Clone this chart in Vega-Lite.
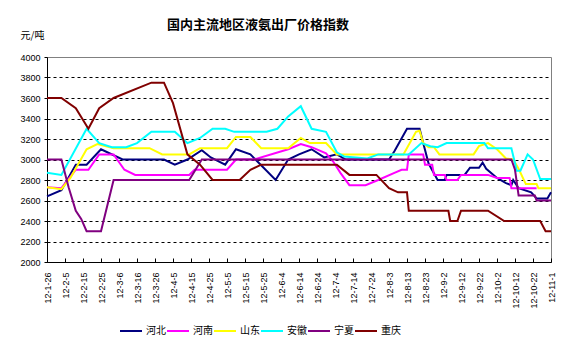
{
  "$schema": "https://vega.github.io/schema/vega-lite/v6.json",
  "width": 504,
  "height": 205,
  "autosize": "none",
  "padding": {"left": 47, "top": 57, "right": 23, "bottom": 90},
  "background": "white",
  "title": {
    "text": "国内主流地区液氨出厂价格指数",
    "font": "Noto Sans CJK SC",
    "fontSize": 13,
    "fontWeight": "bold",
    "color": "black",
    "anchor": "start",
    "frame": "group",
    "dx": 120,
    "offset": -8,
    "baseline": "middle"
  },
  "config": {
    "view": {"stroke": "#808080", "strokeWidth": 1}
  },
  "data": {
    "values": [
      {"s": "河北", "date": "2012-01-26", "v": 2640},
      {"s": "河北", "date": "2012-02-03", "v": 2700},
      {"s": "河北", "date": "2012-02-11", "v": 2950},
      {"s": "河北", "date": "2012-02-17", "v": 2950},
      {"s": "河北", "date": "2012-02-25", "v": 3100},
      {"s": "河北", "date": "2012-03-08", "v": 3000},
      {"s": "河北", "date": "2012-03-31", "v": 3000},
      {"s": "河北", "date": "2012-04-06", "v": 2950},
      {"s": "河北", "date": "2012-04-13", "v": 3000},
      {"s": "河北", "date": "2012-04-21", "v": 3090},
      {"s": "河北", "date": "2012-04-26", "v": 3020},
      {"s": "河北", "date": "2012-05-04", "v": 2950},
      {"s": "河北", "date": "2012-05-10", "v": 3100},
      {"s": "河北", "date": "2012-05-18", "v": 3050},
      {"s": "河北", "date": "2012-06-01", "v": 2800},
      {"s": "河北", "date": "2012-06-08", "v": 3000},
      {"s": "河北", "date": "2012-06-14", "v": 3050},
      {"s": "河北", "date": "2012-06-21", "v": 3100},
      {"s": "河北", "date": "2012-06-28", "v": 3020},
      {"s": "河北", "date": "2012-07-05", "v": 3050},
      {"s": "河北", "date": "2012-07-10", "v": 3000},
      {"s": "河北", "date": "2012-08-03", "v": 3000},
      {"s": "河北", "date": "2012-08-06", "v": 3080},
      {"s": "河北", "date": "2012-08-13", "v": 3300},
      {"s": "河北", "date": "2012-08-20", "v": 3300},
      {"s": "河北", "date": "2012-08-22", "v": 3160},
      {"s": "河北", "date": "2012-08-25", "v": 2960},
      {"s": "河北", "date": "2012-08-30", "v": 2800},
      {"s": "河北", "date": "2012-09-03", "v": 2800},
      {"s": "河北", "date": "2012-09-04", "v": 2850},
      {"s": "河北", "date": "2012-09-14", "v": 2850},
      {"s": "河北", "date": "2012-09-17", "v": 2920},
      {"s": "河北", "date": "2012-09-22", "v": 2920},
      {"s": "河北", "date": "2012-09-24", "v": 2970},
      {"s": "河北", "date": "2012-09-26", "v": 2910},
      {"s": "河北", "date": "2012-10-02", "v": 2820},
      {"s": "河北", "date": "2012-10-07", "v": 2770},
      {"s": "河北", "date": "2012-10-10", "v": 2750},
      {"s": "河北", "date": "2012-10-11", "v": 2800},
      {"s": "河北", "date": "2012-10-14", "v": 2720},
      {"s": "河北", "date": "2012-10-21", "v": 2680},
      {"s": "河北", "date": "2012-10-24", "v": 2620},
      {"s": "河北", "date": "2012-10-30", "v": 2620},
      {"s": "河北", "date": "2012-11-01", "v": 2680},

      {"s": "河南", "date": "2012-01-26", "v": 2730},
      {"s": "河南", "date": "2012-02-03", "v": 2720},
      {"s": "河南", "date": "2012-02-11", "v": 2900},
      {"s": "河南", "date": "2012-02-18", "v": 2900},
      {"s": "河南", "date": "2012-02-24", "v": 3050},
      {"s": "河南", "date": "2012-03-03", "v": 3050},
      {"s": "河南", "date": "2012-03-09", "v": 2900},
      {"s": "河南", "date": "2012-03-15", "v": 2850},
      {"s": "河南", "date": "2012-04-14", "v": 2850},
      {"s": "河南", "date": "2012-04-17", "v": 2900},
      {"s": "河南", "date": "2012-05-05", "v": 2900},
      {"s": "河南", "date": "2012-05-10", "v": 3000},
      {"s": "河南", "date": "2012-05-20", "v": 3000},
      {"s": "河南", "date": "2012-06-08", "v": 3100},
      {"s": "河南", "date": "2012-06-15", "v": 3150},
      {"s": "河南", "date": "2012-06-21", "v": 3120},
      {"s": "河南", "date": "2012-06-29", "v": 3060},
      {"s": "河南", "date": "2012-07-03", "v": 2980},
      {"s": "河南", "date": "2012-07-07", "v": 2870},
      {"s": "河南", "date": "2012-07-12", "v": 2750},
      {"s": "河南", "date": "2012-07-21", "v": 2750},
      {"s": "河南", "date": "2012-07-28", "v": 2800},
      {"s": "河南", "date": "2012-08-06", "v": 2870},
      {"s": "河南", "date": "2012-08-10", "v": 2900},
      {"s": "河南", "date": "2012-08-13", "v": 2900},
      {"s": "河南", "date": "2012-08-14", "v": 3050},
      {"s": "河南", "date": "2012-08-22", "v": 3050},
      {"s": "河南", "date": "2012-08-23", "v": 2950},
      {"s": "河南", "date": "2012-08-27", "v": 2950},
      {"s": "河南", "date": "2012-08-28", "v": 2850},
      {"s": "河南", "date": "2012-09-03", "v": 2850},
      {"s": "河南", "date": "2012-09-04", "v": 2800},
      {"s": "河南", "date": "2012-09-10", "v": 2800},
      {"s": "河南", "date": "2012-09-12", "v": 2850},
      {"s": "河南", "date": "2012-09-27", "v": 2850},
      {"s": "河南", "date": "2012-10-02", "v": 2820},
      {"s": "河南", "date": "2012-10-09", "v": 2820},
      {"s": "河南", "date": "2012-10-10", "v": 2720},
      {"s": "河南", "date": "2012-10-24", "v": 2720},

      {"s": "山东", "date": "2012-01-26", "v": 2730},
      {"s": "山东", "date": "2012-02-03", "v": 2710},
      {"s": "山东", "date": "2012-02-08", "v": 2820},
      {"s": "山东", "date": "2012-02-17", "v": 3100},
      {"s": "山东", "date": "2012-02-23", "v": 3150},
      {"s": "山东", "date": "2012-03-03", "v": 3110},
      {"s": "山东", "date": "2012-03-23", "v": 3110},
      {"s": "山东", "date": "2012-03-30", "v": 3050},
      {"s": "山东", "date": "2012-04-14", "v": 3050},
      {"s": "山东", "date": "2012-04-20", "v": 3110},
      {"s": "山东", "date": "2012-05-05", "v": 3110},
      {"s": "山东", "date": "2012-05-10", "v": 3220},
      {"s": "山东", "date": "2012-05-18", "v": 3220},
      {"s": "山东", "date": "2012-05-24", "v": 3110},
      {"s": "山东", "date": "2012-06-08", "v": 3110},
      {"s": "山东", "date": "2012-06-15", "v": 3210},
      {"s": "山东", "date": "2012-06-20", "v": 3160},
      {"s": "山东", "date": "2012-06-29", "v": 3160},
      {"s": "山东", "date": "2012-07-05", "v": 3050},
      {"s": "山东", "date": "2012-08-11", "v": 3050},
      {"s": "山东", "date": "2012-08-18", "v": 3270},
      {"s": "山东", "date": "2012-08-20", "v": 3280},
      {"s": "山东", "date": "2012-08-22", "v": 3160},
      {"s": "山东", "date": "2012-08-25", "v": 3120},
      {"s": "山东", "date": "2012-08-28", "v": 3120},
      {"s": "山东", "date": "2012-08-31", "v": 3050},
      {"s": "山东", "date": "2012-09-19", "v": 3050},
      {"s": "山东", "date": "2012-09-22", "v": 3130},
      {"s": "山东", "date": "2012-09-27", "v": 3160},
      {"s": "山东", "date": "2012-10-02", "v": 3100},
      {"s": "山东", "date": "2012-10-07", "v": 3010},
      {"s": "山东", "date": "2012-10-11", "v": 3000},
      {"s": "山东", "date": "2012-10-14", "v": 2910},
      {"s": "山东", "date": "2012-10-18", "v": 2760},
      {"s": "山东", "date": "2012-10-24", "v": 2760},
      {"s": "山东", "date": "2012-10-25", "v": 2720},
      {"s": "山东", "date": "2012-11-01", "v": 2720},

      {"s": "安徽", "date": "2012-01-26", "v": 2870},
      {"s": "安徽", "date": "2012-02-03", "v": 2850},
      {"s": "安徽", "date": "2012-02-17", "v": 3300},
      {"s": "安徽", "date": "2012-02-24", "v": 3160},
      {"s": "安徽", "date": "2012-03-02", "v": 3120},
      {"s": "安徽", "date": "2012-03-10", "v": 3120},
      {"s": "安徽", "date": "2012-03-16", "v": 3160},
      {"s": "安徽", "date": "2012-03-24", "v": 3270},
      {"s": "安徽", "date": "2012-04-06", "v": 3270},
      {"s": "安徽", "date": "2012-04-13", "v": 3160},
      {"s": "安徽", "date": "2012-04-20", "v": 3210},
      {"s": "安徽", "date": "2012-04-27", "v": 3300},
      {"s": "安徽", "date": "2012-05-04", "v": 3300},
      {"s": "安徽", "date": "2012-05-09", "v": 3270},
      {"s": "安徽", "date": "2012-05-27", "v": 3270},
      {"s": "安徽", "date": "2012-06-02", "v": 3300},
      {"s": "安徽", "date": "2012-06-08", "v": 3420},
      {"s": "安徽", "date": "2012-06-15", "v": 3520},
      {"s": "安徽", "date": "2012-06-21", "v": 3300},
      {"s": "安徽", "date": "2012-06-29", "v": 3270},
      {"s": "安徽", "date": "2012-07-05", "v": 3070},
      {"s": "安徽", "date": "2012-07-09", "v": 3030},
      {"s": "安徽", "date": "2012-07-22", "v": 3010},
      {"s": "安徽", "date": "2012-07-28", "v": 3050},
      {"s": "安徽", "date": "2012-08-14", "v": 3050},
      {"s": "安徽", "date": "2012-08-21", "v": 3160},
      {"s": "安徽", "date": "2012-08-26", "v": 3130},
      {"s": "安徽", "date": "2012-08-30", "v": 3120},
      {"s": "安徽", "date": "2012-09-04", "v": 3160},
      {"s": "安徽", "date": "2012-09-25", "v": 3160},
      {"s": "安徽", "date": "2012-09-27", "v": 3110},
      {"s": "安徽", "date": "2012-10-10", "v": 3110},
      {"s": "安徽", "date": "2012-10-13", "v": 2890},
      {"s": "安徽", "date": "2012-10-15", "v": 2890},
      {"s": "安徽", "date": "2012-10-19", "v": 3050},
      {"s": "安徽", "date": "2012-10-22", "v": 3000},
      {"s": "安徽", "date": "2012-10-26", "v": 2810},
      {"s": "安徽", "date": "2012-11-01", "v": 2810},

      {"s": "宁夏", "date": "2012-01-26", "v": 3000},
      {"s": "宁夏", "date": "2012-02-03", "v": 3000},
      {"s": "宁夏", "date": "2012-02-07", "v": 2730},
      {"s": "宁夏", "date": "2012-02-11", "v": 2500},
      {"s": "宁夏", "date": "2012-02-14", "v": 2420},
      {"s": "宁夏", "date": "2012-02-17", "v": 2300},
      {"s": "宁夏", "date": "2012-02-25", "v": 2300},
      {"s": "宁夏", "date": "2012-03-03", "v": 2800},
      {"s": "宁夏", "date": "2012-04-14", "v": 2800},
      {"s": "宁夏", "date": "2012-04-21", "v": 3000},
      {"s": "宁夏", "date": "2012-10-10", "v": 3000},
      {"s": "宁夏", "date": "2012-10-12", "v": 2900},
      {"s": "宁夏", "date": "2012-10-14", "v": 2650},
      {"s": "宁夏", "date": "2012-10-23", "v": 2650},
      {"s": "宁夏", "date": "2012-10-24", "v": 2600},
      {"s": "宁夏", "date": "2012-11-01", "v": 2600},

      {"s": "重庆", "date": "2012-01-26", "v": 3600},
      {"s": "重庆", "date": "2012-02-03", "v": 3600},
      {"s": "重庆", "date": "2012-02-11", "v": 3500},
      {"s": "重庆", "date": "2012-02-18", "v": 3300},
      {"s": "重庆", "date": "2012-02-24", "v": 3500},
      {"s": "重庆", "date": "2012-03-03", "v": 3600},
      {"s": "重庆", "date": "2012-03-24", "v": 3750},
      {"s": "重庆", "date": "2012-03-31", "v": 3750},
      {"s": "重庆", "date": "2012-04-05", "v": 3550},
      {"s": "重庆", "date": "2012-04-13", "v": 3050},
      {"s": "重庆", "date": "2012-04-20", "v": 2950},
      {"s": "重庆", "date": "2012-04-27", "v": 2800},
      {"s": "重庆", "date": "2012-05-12", "v": 2800},
      {"s": "重庆", "date": "2012-05-18", "v": 2900},
      {"s": "重庆", "date": "2012-05-24", "v": 2950},
      {"s": "重庆", "date": "2012-07-05", "v": 2950},
      {"s": "重庆", "date": "2012-07-12", "v": 2850},
      {"s": "重庆", "date": "2012-07-27", "v": 2850},
      {"s": "重庆", "date": "2012-08-03", "v": 2720},
      {"s": "重庆", "date": "2012-08-08", "v": 2680},
      {"s": "重庆", "date": "2012-08-13", "v": 2680},
      {"s": "重庆", "date": "2012-08-14", "v": 2500},
      {"s": "重庆", "date": "2012-09-05", "v": 2500},
      {"s": "重庆", "date": "2012-09-06", "v": 2400},
      {"s": "重庆", "date": "2012-09-10", "v": 2400},
      {"s": "重庆", "date": "2012-09-12", "v": 2500},
      {"s": "重庆", "date": "2012-09-27", "v": 2500},
      {"s": "重庆", "date": "2012-10-06", "v": 2400},
      {"s": "重庆", "date": "2012-10-26", "v": 2400},
      {"s": "重庆", "date": "2012-10-29", "v": 2300},
      {"s": "重庆", "date": "2012-11-01", "v": 2300}
    ],
    "format": {"parse": {"date": "date:'%Y-%m-%d'"}}
  },
  "encoding": {
    "x": {
      "field": "date",
      "type": "temporal",
      "scale": {
        "domain": [{"year": 2012, "month": 1, "date": 26}, {"year": 2012, "month": 11, "date": 1}],
        "nice": false
      },
      "axis": {
        "title": null,
        "grid": false,
        "values": [
          {"year": 2012, "month": 1, "date": 26},
          {"year": 2012, "month": 2, "date": 5},
          {"year": 2012, "month": 2, "date": 15},
          {"year": 2012, "month": 2, "date": 25},
          {"year": 2012, "month": 3, "date": 6},
          {"year": 2012, "month": 3, "date": 16},
          {"year": 2012, "month": 3, "date": 26},
          {"year": 2012, "month": 4, "date": 5},
          {"year": 2012, "month": 4, "date": 15},
          {"year": 2012, "month": 4, "date": 25},
          {"year": 2012, "month": 5, "date": 5},
          {"year": 2012, "month": 5, "date": 15},
          {"year": 2012, "month": 5, "date": 25},
          {"year": 2012, "month": 6, "date": 4},
          {"year": 2012, "month": 6, "date": 14},
          {"year": 2012, "month": 6, "date": 24},
          {"year": 2012, "month": 7, "date": 4},
          {"year": 2012, "month": 7, "date": 14},
          {"year": 2012, "month": 7, "date": 24},
          {"year": 2012, "month": 8, "date": 3},
          {"year": 2012, "month": 8, "date": 13},
          {"year": 2012, "month": 8, "date": 23},
          {"year": 2012, "month": 9, "date": 2},
          {"year": 2012, "month": 9, "date": 12},
          {"year": 2012, "month": 9, "date": 22},
          {"year": 2012, "month": 10, "date": 2},
          {"year": 2012, "month": 10, "date": 12},
          {"year": 2012, "month": 10, "date": 22},
          {"year": 2012, "month": 11, "date": 1}
        ],
        "format": "%y-%-m-%-d",
        "labelAngle": -90,
        "labelAlign": "right",
        "labelBaseline": "middle",
        "labelOverlap": false,
        "labelFlush": false,
        "labelFont": "Liberation Sans",
        "labelFontSize": 9,
        "labelColor": "black",
        "labelPadding": 14,
        "tickSize": -4,
        "tickColor": "black",
        "domainColor": "black"
      }
    },
    "y": {
      "field": "v",
      "type": "quantitative",
      "scale": {"domain": [2000, 4000], "nice": false, "zero": false},
      "axis": {
        "values": [2000, 2200, 2400, 2600, 2800, 3000, 3200, 3400, 3600, 3800, 4000],
        "format": "d",
        "grid": true,
        "gridColor": "black",
        "gridDash": [3, 3],
        "gridWidth": 1,
        "gridOpacity": {"condition": {"test": "datum.value == 2000 || datum.value == 4000", "value": 0}, "value": 1},
        "domainColor": "black",
        "tickColor": "black",
        "tickSize": 3,
        "labelFont": "Liberation Sans",
        "labelFontSize": 9,
        "labelColor": "black",
        "labelPadding": 4,
        "title": "元/吨",
        "titleAngle": 0,
        "titleX": -27,
        "titleY": -22,
        "titleAlign": "left",
        "titleBaseline": "middle",
        "titleFont": "Noto Sans CJK SC",
        "titleFontSize": 10,
        "titleFontWeight": "normal",
        "titleColor": "black"
      }
    },
    "color": {
      "field": "s",
      "type": "nominal",
      "scale": {
        "domain": ["河北", "河南", "山东", "安徽", "宁夏", "重庆"],
        "range": ["#000080", "#FF00FF", "#FFFF00", "#00FFFF", "#800080", "#800000"]
      },
      "legend": {
        "title": null,
        "orient": "none",
        "legendX": 72,
        "legendY": 262,
        "direction": "horizontal",
        "symbolType": "stroke",
        "symbolSize": 484,
        "symbolStrokeWidth": 2,
        "labelFont": "Noto Sans CJK SC",
        "labelFontSize": 10,
        "labelColor": "black",
        "labelOffset": 3,
        "columnPadding": -5
      }
    }
  },
  "layer": [
    {"transform": [{"filter": {"field": "s", "equal": "河北"}}], "mark": {"type": "line", "strokeWidth": 2}},
    {"transform": [{"filter": {"field": "s", "equal": "河南"}}], "mark": {"type": "line", "strokeWidth": 2}},
    {"transform": [{"filter": {"field": "s", "equal": "山东"}}], "mark": {"type": "line", "strokeWidth": 2}},
    {"transform": [{"filter": {"field": "s", "equal": "安徽"}}], "mark": {"type": "line", "strokeWidth": 2}},
    {"transform": [{"filter": {"field": "s", "equal": "宁夏"}}], "mark": {"type": "line", "strokeWidth": 2}},
    {"transform": [{"filter": {"field": "s", "equal": "重庆"}}], "mark": {"type": "line", "strokeWidth": 2}}
  ]
}
